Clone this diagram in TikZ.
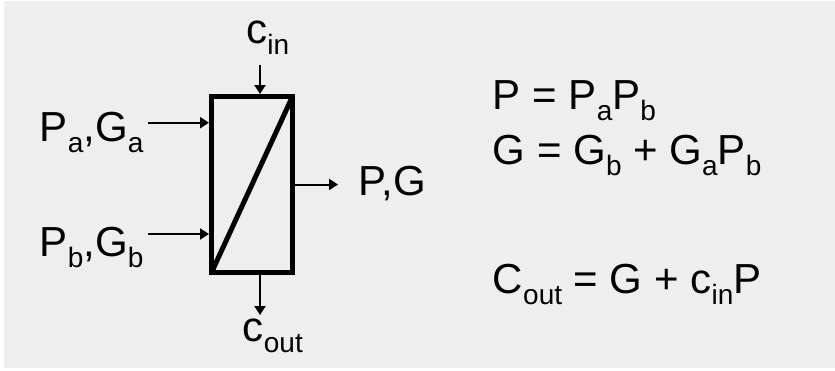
\documentclass[tikz,border=0pt]{standalone}
\usepackage{fontspec}
\setmainfont{Liberation Sans}
\usepackage{tikz}
\usetikzlibrary{positioning,calc,arrows.meta}
\usepackage{xcolor}
\definecolor{bgcol}{RGB}{238,238,238}
\newcommand{\dn}[1]{\raisebox{-5.5pt}{\fontsize{14}{14}\selectfont #1}}

\begin{document}
\begin{tikzpicture}[
    x=0.5pt, y=-0.5pt,
    label/.style={anchor=base west, inner sep=0pt, font=\fontsize{21}{25}\selectfont},
    unitbox/.style={rectangle, draw, line width=2.5pt, minimum width=40.5pt, minimum height=88pt, inner sep=0pt},
    flow/.style={-{Triangle[length=4.5pt, width=5.5pt]}, line width=1pt},
]

\fill[white] (0,0) rectangle (835,370);
\fill[bgcol] (4,1) rectangle (835,368);
\useasboundingbox (0,0) rectangle (835,370);

\node[unitbox] (unit) at (252,184.5) {};
\draw[line width=2.5pt] ([shift={(1.25pt,1.25pt)}]unit.south west) -- ([shift={(-1.25pt,-1.25pt)}]unit.north east);

\node[label] (pa) at (39.5,141.7) {P\dn{a},G\dn{a}};
\node[label] (pb) at (39.5,256) {P\dn{b},G\dn{b}};
\node[label] (cin) at (246,43) {c\dn{in}};
\node[label] (cout) at (242.5,341.7) {c\dn{out}};
\node[label] (pg) at (358.5,195) {P,G};

\node[label] (eqp) at (492.5,109) {P = P\dn{a}P\dn{b}};
\node[label] (eqg) at (492.5,164) {G = G\dn{b} + G\dn{a}P\dn{b}};
\node[label] (eqc) at (492.5,293) {C\dn{out} = G + c\dn{in}P};

\coordinate (ina) at (148,122.7);
\coordinate (inb) at (148,234);
\coordinate (top) at (260,65);
\coordinate (bot) at (260,315);
\coordinate (pgend) at (338,184.5);

\draw[flow] (ina) -- (ina -| unit.west);
\draw[flow] (inb) -- (inb -| unit.west);
\draw[flow] (top) -- (top |- unit.north);
\draw[flow] (top |- unit.south) -- (bot);
\draw[flow] (unit.east) -- (pgend);

\end{tikzpicture}
\end{document}
